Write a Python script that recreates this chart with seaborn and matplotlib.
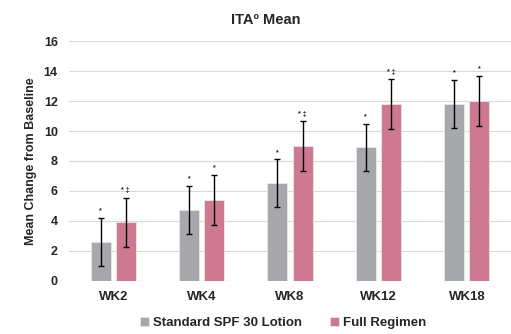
import pandas as pd
import seaborn as sns
import matplotlib.pyplot as plt

weeks = ['WK2', 'WK4', 'WK8', 'WK12', 'WK18']
groups = ['Standard SPF 30 Lotion', 'Full Regimen']
spf_mean = [2.6, 4.7, 6.5, 8.9, 11.8]
spf_err = [1.6, 1.6, 1.6, 1.6, 1.6]
full_mean = [3.9, 5.4, 9.0, 11.8, 12.0]
full_err = [1.65, 1.65, 1.65, 1.65, 1.65]
spf_marks = ['*', '*', '*', '*', '*']
full_marks = ['* ‡', '*', '* ‡', '* ‡', '*']
colors = ['#A7A8AB', '#CE7891']

df = pd.DataFrame({
    'Week': weeks * 2,
    'Group': [groups[0]] * len(weeks) + [groups[1]] * len(weeks),
    'Mean': spf_mean + full_mean,
})

sns.set_style('white')
plt.rcParams['font.family'] = ['Liberation Sans', 'DejaVu Sans']

fig = plt.figure(figsize=(5.11, 3.34), dpi=100)
ax = fig.add_axes([0.135, 0.159, 0.865, 0.718])

sns.barplot(data=df, x='Week', y='Mean', hue='Group', palette=colors,
            saturation=1, width=0.57, gap=0.2, errorbar=None,
            edgecolor='#e8e8e8', linewidth=0.6, ax=ax)

# error bars and significance marks, placed on the drawn bars
means = spf_mean + full_mean
errs = spf_err + full_err
marks = spf_marks + full_marks
bars = [p for p in ax.patches if p.get_height() > 0][:len(means)]
for bar, m, e, s in zip(bars, means, errs, marks):
    cx = bar.get_x() + bar.get_width() / 2
    ax.errorbar(cx, m, yerr=e, fmt='none', ecolor='black', elinewidth=1,
                capsize=2.2, capthick=1, zorder=4)
    ax.text(cx, m + e + 0.25, s, ha='center', va='bottom', fontsize=5,
            fontweight='bold', color='#222222')

ax.set_ylim(0, 16)
ax.set_yticks(range(0, 17, 2))
ax.set_xlim(-0.5, 4.5)
ax.yaxis.grid(True, color='#D9D9D9', linewidth=0.8)
ax.set_axisbelow(True)
for sp in ax.spines.values():
    sp.set_visible(False)
ax.tick_params(axis='y', length=0, labelsize=9, pad=8)
ax.tick_params(axis='x', length=0, labelsize=9.5, pad=7)
for lab in ax.get_xticklabels() + ax.get_yticklabels():
    lab.set_fontweight('bold')
ax.set_xlabel('')
ax.set_ylabel('Mean Change from Baseline', fontsize=9, fontweight='bold',
              labelpad=5)
ax.set_title('ITAº Mean', fontsize=10.5, fontweight='bold', pad=12, x=0.445)

ax.legend(loc='upper center', bbox_to_anchor=(0.485, -0.1), ncol=2,
          frameon=False, prop={'weight': 'bold', 'size': 9.5},
          handlelength=0.7, handleheight=0.7, handletextpad=0.3,
          columnspacing=2.1)

fig.savefig('out.png', dpi=100)
